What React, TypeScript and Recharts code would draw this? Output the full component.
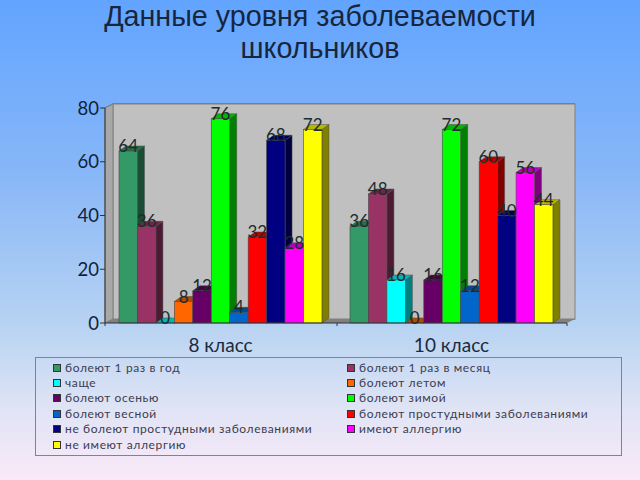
import { BarChart, Bar, XAxis, YAxis, CartesianGrid, LabelList, Legend } from 'recharts'

const classes = ['8 класс', '10 класс']
const seriesNames = [
  'болеют 1 раз в год',
  'болеют 1 раз в месяц',
  'чаще',
  'болеют летом',
  'болеют осенью',
  'болеют зимой',
  'болеют весной',
  'болеют простудными заболеваниями',
  'не болеют простудными заболеваниями',
  'имеют аллергию',
  'не имеют аллергию',
]
const values8 = [64, 36, 0, 8, 12, 76, 4, 32, 68, 28, 72]
const values10 = [36, 48, 16, 0, 16, 72, 12, 60, 40, 56, 44]
const colors = ['#339966', '#993366', '#00ffff', '#ff6600', '#660066', '#00ff00', '#0066cc', '#ff0000', '#000080', '#ff00ff', '#ffff00']
const yTicks = [0, 20, 40, 60, 80]

const dados = classes.map((cls, i) => {
  const row: Record<string, any> = { cls }
  const vals = i === 0 ? values8 : values10
  seriesNames.forEach((n, j) => { row[n] = vals[j] })
  return row
})

// глубина псевдо-3D
const DX = 7
const DY = 5
const WALL_DX = 8
const WALL_DY = 4

function darken(hex: string, k: number) {
  const n = parseInt(hex.slice(1), 16)
  const c = (s: number) => Math.round(((n >> s) & 255) * k)
  return `rgb(${c(16)},${c(8)},${c(0)})`
}

function Bar3D(props: any) {
  const { x, y, width, height, fill } = props
  const edge = '#4a4a4a'
  return (
    <g>
      <polygon points={`${x + width},${y} ${x + width + DX},${y - DY} ${x + width + DX},${y + height - DY} ${x + width},${y + height}`} fill={darken(fill, 0.5)} stroke={edge} strokeWidth={0.5} />
      <polygon points={`${x},${y} ${x + DX},${y - DY} ${x + width + DX},${y - DY} ${x + width},${y}`} fill={darken(fill, 0.72)} stroke={edge} strokeWidth={0.5} />
      <rect x={x} y={y} width={width} height={height} fill={fill} stroke={edge} strokeWidth={0.6} />
    </g>
  )
}

// стены и пол диаграммы
function Walls() {
  const l = 105, r = 567, t = 108, b = 323
  return (
    <g>
      <rect x={l + WALL_DX} y={t - WALL_DY} width={r - l} height={b - t} fill="#c0c0c0" stroke="#808080" />
      <polygon points={`${l},${t} ${l + WALL_DX},${t - WALL_DY} ${l + WALL_DX},${b - WALL_DY} ${l},${b}`} fill="#a8a8a8" stroke="#808080" />
      <polygon points={`${l},${b} ${l + WALL_DX},${b - WALL_DY} ${r + WALL_DX},${b - WALL_DY} ${r},${b}`} fill="#808080" />
      <line x1={337} y1={b} x2={337} y2={b + 3} stroke="#333" />
      <line x1={l} y1={b} x2={l} y2={b + 3} stroke="#333" />
      <line x1={r} y1={b} x2={r} y2={b + 3} stroke="#333" />
    </g>
  )
}

function gridLine(p: any) {
  return (
    <polyline
      key={p.key ?? p.y1}
      points={`${p.x1},${p.y1} ${p.x1 + WALL_DX},${p.y1 - WALL_DY} ${p.x2 + WALL_DX},${p.y2 - WALL_DY}`}
      fill="none"
      stroke="#4f4f4f"
      strokeWidth={1}
    />
  )
}

function LegendBox({ payload }: any) {
  return (
    <div style={{ width: 587, height: 99, boxSizing: 'border-box', border: '1px solid #7d8296', position: 'relative', fontFamily: 'Lato', fontSize: 12, color: '#3c3c50' }}>
      {(payload ?? []).map((it: any, i: number) => (
        <div key={it.value} style={{ position: 'absolute', left: i % 2 === 0 ? 17 : 311, top: 1.5 + Math.floor(i / 2) * 15.4, whiteSpace: 'nowrap', lineHeight: '15px', letterSpacing: 0.62 }}>
          <span style={{ display: 'inline-block', width: 6, height: 6, background: it.color, border: '1px solid #333', marginRight: 4, verticalAlign: 0 }} />
          {it.value}
        </div>
      ))}
    </div>
  )
}

const titleStyle = { position: 'absolute', left: 0, width: 640, textAlign: 'center', fontFamily: 'Liberation Sans', fontSize: 28.7, lineHeight: '33px', color: '#16263c' } as const

export default function App() {
  return (
    <div style={{ position: 'absolute', left: 0, top: 0, width: 640, height: 480, overflow: 'hidden', background: 'linear-gradient(180deg, #62a4ff 0%, #86b6f8 35%, #b8d3f2 68%, #dfe4f5 85%, #fbe9f8 100%)' }}>
      <div style={{ ...titleStyle, top: 0 }}>Данные уровня заболеваемости</div>
      <div style={{ ...titleStyle, top: 32 }}>школьников</div>
      <div style={{ position: 'absolute', left: 0, top: 0 }}>
        <BarChart width={640} height={480} data={dados} margin={{ top: 108, right: 73, left: 0, bottom: 0 }} barSize={18.45} barGap={0}>
          <Walls />
          <CartesianGrid vertical={false} horizontal={gridLine} />
          <XAxis dataKey="cls" height={157} tickLine={false} stroke="#333" tick={{ fontFamily: 'Lato', fontSize: 19, fill: '#1c2a3c' }} tickMargin={10} />
          <YAxis width={105} domain={[0, 80]} ticks={yTicks} stroke="#333" tickSize={5} tickMargin={1} tick={{ fontFamily: 'Lato', fontSize: 18.5, fill: '#10233c' }} />
          <Legend layout="horizontal" verticalAlign="middle" itemSorter={null} wrapperStyle={{ position: 'absolute', left: 35, top: 357, width: 587, height: 99 }} content={<LegendBox />} />
          {seriesNames.map((n, i) => (
            <Bar key={n} dataKey={n} fill={colors[i]} shape={<Bar3D />} isAnimationActive={false}>
              <LabelList dataKey={n} position="top" offset={-1} style={{ fontFamily: 'Lato', fontSize: 17, fill: '#1d2b2b' }} />
            </Bar>
          ))}
        </BarChart>
      </div>
    </div>
  )
}
